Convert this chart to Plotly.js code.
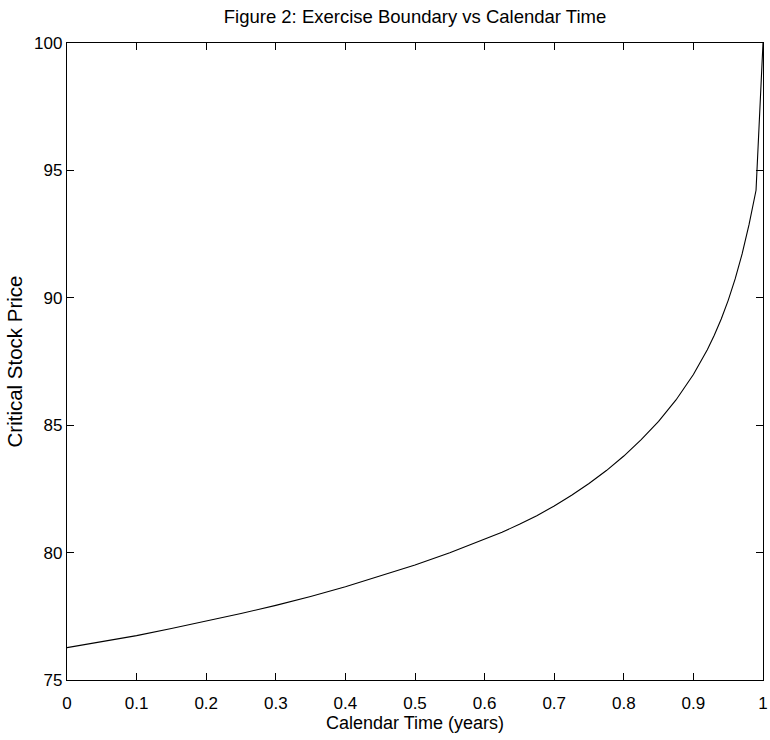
<!DOCTYPE html>
<html>
<head>
<meta charset="utf-8">
<script src="https://cdn.plot.ly/plotly-3.0.1.min.js"></script>
<style>
  html, body { margin: 0; padding: 0; background: #ffffff; }
  #chart { width: 770px; height: 740px; }
</style>
</head>
<body>
<div id="chart"></div>
<script>
// Calendar time (years) and the critical stock price at which early exercise becomes optimal
const calendarTime = [0, 0.05, 0.1, 0.15, 0.2, 0.25, 0.3, 0.35, 0.4, 0.45, 0.5,
  0.55, 0.6, 0.625, 0.65, 0.675, 0.7, 0.725, 0.75, 0.775, 0.8, 0.825, 0.85, 0.875, 0.9,
  0.91, 0.92, 0.93, 0.94, 0.95, 0.96, 0.97, 0.98, 0.99, 1.0];
const criticalPrice = [76.27, 76.50, 76.74, 77.02, 77.31, 77.61, 77.93, 78.28, 78.66, 79.07, 79.51,
  79.99, 80.52, 80.80, 81.11, 81.45, 81.83, 82.25, 82.71, 83.22, 83.79, 84.43, 85.15, 85.99, 86.99,
  87.45, 87.96, 88.53, 89.17, 89.90, 90.74, 91.72, 92.88, 94.22, 100.0];

const xTicks = [0, 0.1, 0.2, 0.3, 0.4, 0.5, 0.6, 0.7, 0.8, 0.9, 1];
const xTickText = ['0', '0.1', '0.2', '0.3', '0.4', '0.5', '0.6', '0.7', '0.8', '0.9', '1'];
const yTicks = [75, 80, 85, 90, 95, 100];

const FONT = 'Liberation Sans, Arial, sans-serif';

const trace = {
  x: calendarTime,
  y: criticalPrice,
  type: 'scatter',
  mode: 'lines',
  line: { color: '#000000', width: 1.1 },
  hoverinfo: 'x+y'
};

const axisCommon = {
  showline: true,
  linecolor: '#000000',
  linewidth: 1.2,
  mirror: 'ticks',
  ticks: 'inside',
  ticklen: 7,
  tickwidth: 1,
  tickcolor: '#000000',
  showgrid: false,
  zeroline: false,
  automargin: false,
  tickfont: { family: FONT, size: 17, color: '#000000' }
};

const layout = {
  width: 770,
  height: 740,
  margin: { l: 67, r: 7, t: 43, b: 60 },
  paper_bgcolor: '#ffffff',
  plot_bgcolor: '#ffffff',
  showlegend: false,
  title: {
    text: 'Figure 2: Exercise Boundary vs Calendar Time',
    font: { family: FONT, size: 18.5, color: '#000000' },
    xref: 'paper', x: 0.5, xanchor: 'center',
    yref: 'container', y: 1 - 17 / 740, yanchor: 'middle'
  },
  xaxis: Object.assign({}, axisCommon, {
    range: [0, 1],
    tickmode: 'array',
    tickvals: xTicks,
    ticktext: xTickText,
    ticklabelstandoff: 7,
    title: { text: 'Calendar Time (years)', font: { family: FONT, size: 18, color: '#000000' }, standoff: 2 }
  }),
  yaxis: Object.assign({}, axisCommon, {
    range: [75, 100],
    tickmode: 'array',
    tickvals: yTicks,
    title: { text: 'Critical Stock Price', font: { family: FONT, size: 20.5, color: '#000000' }, standoff: 5 }
  })
};

Plotly.newPlot('chart', [trace], layout, { displayModeBar: false, staticPlot: true });
</script>
</body>
</html>
